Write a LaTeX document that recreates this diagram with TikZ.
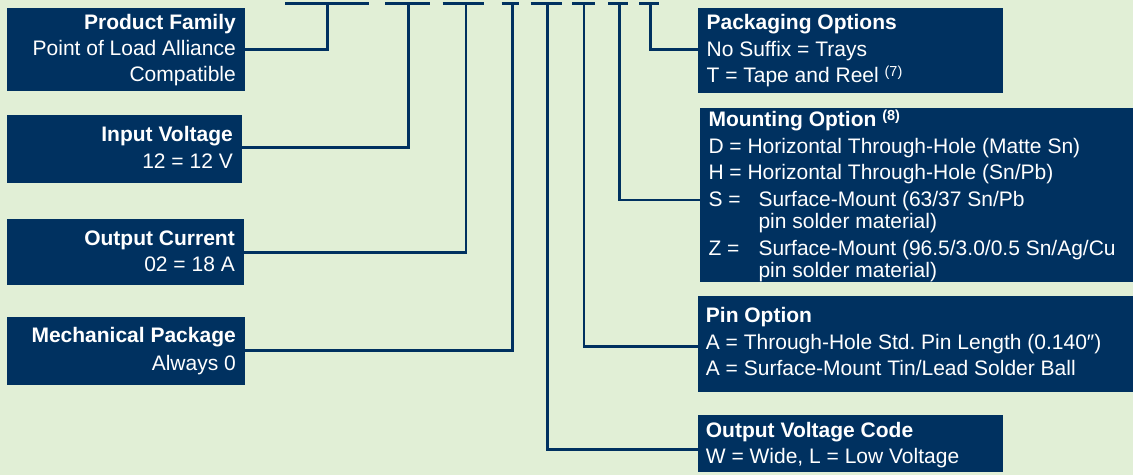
\documentclass[tikz,border=0pt]{standalone}
\usepackage{fontspec}
\setmainfont{Liberation Sans}
\definecolor{navy}{RGB}{0,49,96}
\definecolor{bg}{RGB}{225,239,214}
\begin{document}
\begin{tikzpicture}[x=1pt,y=-1pt,
  box/.style={fill=navy, draw=none, inner sep=0pt, anchor=north west},
  txt/.style={text=white, inner sep=0pt, font=\fontsize{21}{25}\selectfont},
  ttl/.style={text=white, inner sep=0pt, font=\fontsize{21}{25}\selectfont\bfseries},
  link/.style={draw=navy, line width=2.6pt, line join=miter}]
\fill[bg] (0,0) rectangle (1133,475);
\useasboundingbox (0,0) rectangle (1133,475);

% boxes
\node[box, minimum width=238pt, minimum height=82.7pt] (pf) at (7,8) {};
\node[box, minimum width=234.7pt, minimum height=67.7pt] (iv) at (7,115) {};
\node[box, minimum width=237pt, minimum height=65.7pt] (oc) at (7,219) {};
\node[box, minimum width=238pt, minimum height=67.3pt] (mp) at (7,317) {};
\node[box, minimum width=305pt, minimum height=84.7pt] (po) at (698,8) {};
\node[box, minimum width=433pt, minimum height=173.7pt] (mo) at (700,108) {};
\node[box, minimum width=435pt, minimum height=95.7pt] (pn) at (698,296) {};
\node[box, minimum width=305pt, minimum height=57.7pt] (ov) at (698,414.3) {};

% bars of the part number
\foreach \i/\l/\r/\v in {1/285/369.3/327.3, 2/385/430/408.3, 3/442.7/484/466,
  4/501.7/519.3/512.3, 5/530.7/562/547.7, 6/572.3/595/584,
  7/608.3/627.7/619.3, 8/639.3/659.3/650.7}{
  \coordinate (L\i) at (\l,3.3);
  \coordinate (R\i) at (\r,3.3);
  \coordinate (V\i) at (\v,3.3);
  \draw[link] (L\i) -- (R\i);
}
\coordinate (k1) at (327.3,49.3);
\coordinate (k2) at (408.3,147.3);
\coordinate (k3) at (466,252.7);
\coordinate (k4) at (512.3,350.7);
\coordinate (k5) at (547.7,449.3);
\coordinate (k6) at (584,346.7);
\coordinate (k7) at (619.3,200);
\coordinate (k8) at (650.7,49.3);
\draw[link] (V1) -- (k1) -- (k1 -| pf.east);
\draw[link] (V2) -- (k2) -- (k2 -| iv.east);
\draw[link] (V3) -- (k3) -- (k3 -| oc.east);
\draw[link] (V4) -- (k4) -- (k4 -| mp.east);
\draw[link] (V5) -- (k5) -- (k5 -| ov.west);
\draw[link] (V6) -- (k6) -- (k6 -| pn.west);
\draw[link] (V7) -- (k7) -- (k7 -| mo.west);
\draw[link] (V8) -- (k8) -- (k8 -| po.west);

% left texts
\node[ttl, anchor=base east] (pf1) at (236,29.3) {Product Family};
\node[txt, anchor=base east] (pf2) at (236,55.3) {Point of Load Alliance};
\node[txt, anchor=base east] (pf3) at (236,81.7) {Compatible};
\node[ttl, anchor=base east] (iv1) at (233,141) {Input Voltage};
\node[txt, anchor=base east] (iv2) at (233,168.3) {12 = 12 V};
\node[ttl, anchor=base east] (oc1) at (235,245) {Output Current};
\node[txt, anchor=base east] (oc2) at (235,271) {02 = 18 A};
\node[ttl, anchor=base east] (mp1) at (236,342.3) {Mechanical Package};
\node[txt, anchor=base east] (mp2) at (236,370) {Always 0};

% right texts
\node[ttl, anchor=base west] (po1) at (706.4,29.3) {Packaging Options};
\node[txt, anchor=base west] (po2) at (706.4,56) {No Suffix = Trays};
\node[txt, anchor=base west] (po3) at (706.4,82.7) {T = Tape and Reel {\fontsize{14.5}{14.5}\selectfont\raisebox{6pt}{(7)}}};

\node[ttl, anchor=base west] (mo1) at (708.3,126) {Mounting Option {\fontsize{14.5}{14.5}\selectfont\raisebox{6pt}{(8)}}};
\node[txt, anchor=base west] (mo2) at (708.3,153) {D = Horizontal Through-Hole (Matte Sn)};
\node[txt, anchor=base west] (mo3) at (708.3,179.5) {H = Horizontal Through-Hole (Sn/Pb)};
\node[txt, anchor=base west] (mo4) at (708.3,206) {S =};
\node[txt, anchor=base west] (mo5) at (758.3,206) {Surface-Mount (63/37 Sn/Pb};
\node[txt, anchor=base west] (mo6) at (758.3,228) {pin solder material)};
\node[txt, anchor=base west] (mo7) at (708.3,255) {Z =};
\node[txt, anchor=base west] (mo8) at (758.3,255) {Surface-Mount (96.5/3.0/0.5 Sn/Ag/Cu};
\node[txt, anchor=base west] (mo9) at (758.3,277) {pin solder material)};

\node[ttl, anchor=base west] (pn1) at (705.7,322.3) {Pin Option};
\node[txt, anchor=base west] (pn2) at (705.7,349) {A = Through-Hole Std.\ Pin Length (0.140″)};
\node[txt, anchor=base west] (pn3) at (705.7,375) {A = Surface-Mount Tin/Lead Solder Ball};

\node[ttl, anchor=base west] (ov1) at (705.7,437.7) {Output Voltage Code};
\node[txt, anchor=base west] (ov2) at (705.7,463.3) {W = Wide, L = Low Voltage};
\end{tikzpicture}
\end{document}
